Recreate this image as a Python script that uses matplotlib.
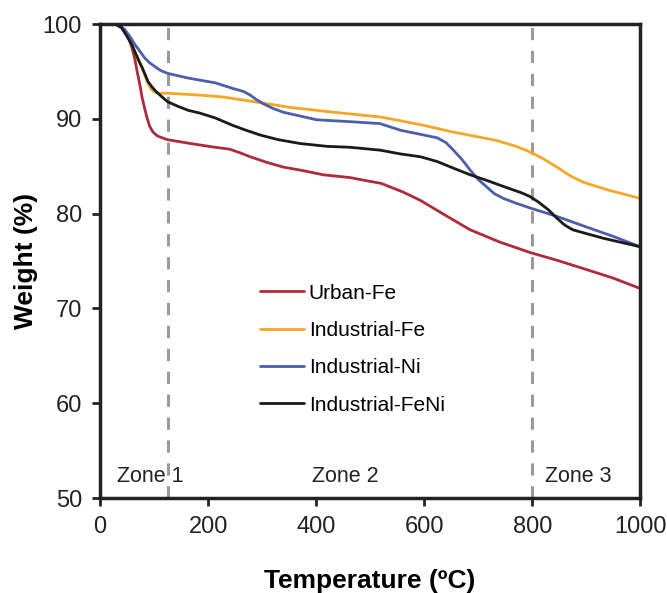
import matplotlib
matplotlib.use("Agg")
import matplotlib.pyplot as plt

plt.rcParams['font.family'] = ['Liberation Sans', 'DejaVu Sans']

temp_urban = [28, 37, 46, 53, 59, 64, 69, 74, 78, 83, 87, 92, 98, 106, 115, 125, 167, 213,
              240, 260, 278, 309, 340, 370, 413, 463, 500, 520, 560, 593, 640, 685, 740, 796, 845, 895, 950, 1000]
w_urban = [100, 99.8, 99.2, 98.5, 97.5, 96.4, 94.9, 93.5, 92.2, 91.0, 90.1, 89.2, 88.6, 88.2, 88.0, 87.8, 87.4, 87.0,
           86.8, 86.4, 86.0, 85.4, 84.9, 84.6, 84.1, 83.8, 83.4, 83.2, 82.3, 81.4, 79.8, 78.3, 77.0, 75.9, 75.1, 74.2, 73.2, 72.1]

temp_ind_fe = [28, 40, 52, 59, 65, 72, 78, 84, 89, 95, 102, 110, 125, 185, 228, 309, 352, 432, 500, 518, 556,
               600, 654, 700, 735, 770, 796, 820, 846, 870, 895, 940, 1000]
w_ind_fe = [100, 99.6, 98.6, 97.8, 97.0, 96.1, 95.3, 94.4, 93.7, 93.1, 92.8, 92.7, 92.7, 92.5, 92.3, 91.6, 91.2, 90.7, 90.3, 90.2, 89.8,
            89.3, 88.6, 88.1, 87.7, 87.1, 86.5, 85.8, 84.9, 84.0, 83.3, 82.5, 81.6]

temp_ind_ni = [28, 37, 46, 55, 65, 74, 83, 92, 102, 112, 125, 163, 213, 246, 265, 278, 290, 302, 320, 339, 370,
               401, 463, 518, 556, 590, 624, 640, 654, 670, 685, 700, 716, 730, 747, 770, 796, 846, 900, 950, 1000]
w_ind_ni = [100, 99.8, 99.4, 98.7, 97.8, 97.1, 96.4, 95.9, 95.5, 95.1, 94.8, 94.3, 93.8, 93.2, 92.9, 92.5, 92.0, 91.6, 91.1, 90.7, 90.3,
            89.9, 89.7, 89.5, 88.8, 88.4, 88.0, 87.5, 86.7, 85.7, 84.6, 83.6, 82.8, 82.1, 81.6, 81.1, 80.6, 79.7, 78.6, 77.6, 76.5]

temp_ind_feni = [28, 40, 52, 59, 65, 72, 78, 84, 89, 97, 105, 115, 125, 145, 163, 185, 213, 246, 270, 296, 330, 370,
                 420, 463, 518, 556, 593, 624, 654, 685, 716, 750, 780, 796, 812, 830, 846, 860, 875, 900, 932, 970, 1000]
w_ind_feni = [100, 99.6, 98.5, 97.8, 97.0, 96.1, 95.4, 94.6, 93.9, 93.3, 92.8, 92.3, 91.8, 91.3, 90.9, 90.6, 90.1, 89.3, 88.8, 88.3, 87.8, 87.4,
              87.1, 87.0, 86.7, 86.3, 86.0, 85.5, 84.8, 84.1, 83.5, 82.8, 82.2, 81.8, 81.2, 80.4, 79.5, 78.8, 78.3, 77.9, 77.4, 76.9, 76.5]

series_names = ['Urban-Fe', 'Industrial-Fe', 'Industrial-Ni', 'Industrial-FeNi']
series_colors = ['#B02A3C', '#F7A627', '#4C5EAE', '#1A1A1A']

zone_edges = [125, 800]
zone_labels = ['Zone 1', 'Zone 2', 'Zone 3']
zone_label_x = [93, 454, 885]

fig = plt.figure(figsize=(6.67, 5.93), dpi=100)
ax = fig.add_axes([0.15, 0.16, 0.81, 0.7995])

data = [(temp_urban, w_urban), (temp_ind_fe, w_ind_fe),
        (temp_ind_ni, w_ind_ni), (temp_ind_feni, w_ind_feni)]
for (t, w), name, col in zip(data, series_names, series_colors):
    ax.plot(t, w, color=col, lw=2, label=name, solid_joinstyle='round', solid_capstyle='round')

for x in zone_edges:
    ax.axvline(x, color='#9A9A9A', lw=2.2, ls=(0, (4, 3.5)), zorder=0)

for lab, x in zip(zone_labels, zone_label_x):
    ax.text(x, 52.3, lab, ha='center', va='center', fontsize=15.5, color='#222222')

ax.set_xlim(0, 1000)
ax.set_ylim(50, 100)
ax.set_xticks([0, 200, 400, 600, 800, 1000])
ax.set_yticks([50, 60, 70, 80, 90, 100])
ax.tick_params(direction='out', length=6, width=2, labelsize=17, colors='#222222', pad=7)
for s in ax.spines.values():
    s.set_linewidth(2.5)
    s.set_color('#222222')

ax.set_xlabel('Temperature (ºC)', fontsize=19, fontweight='bold', labelpad=22)
ax.set_ylabel('Weight (%)', fontsize=19, fontweight='bold', labelpad=3)

ax.legend(loc='upper left', bbox_to_anchor=(0.261, 0.492), frameon=False, fontsize=15,
          handlelength=2.1, handletextpad=0.25, labelspacing=0.88)

fig.savefig('out.png', dpi=100)
